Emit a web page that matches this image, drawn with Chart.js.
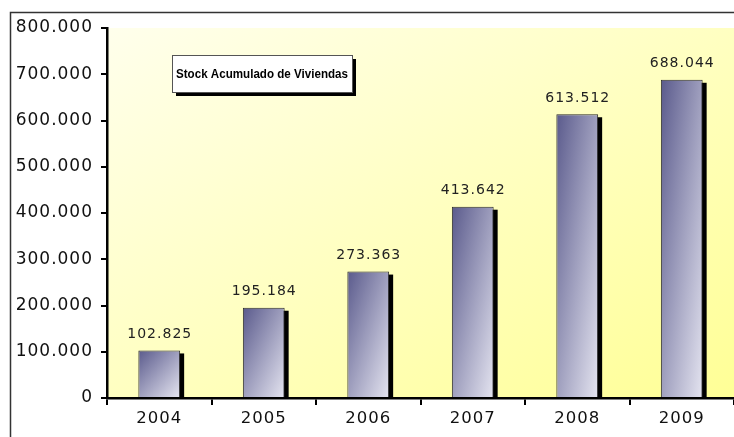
<!DOCTYPE html>
<html>
<head>
<meta charset="utf-8">
<script src="https://cdn.jsdelivr.net/npm/chart.js@4"></script>
<style>
  body { margin: 0; background: #fff; }
  canvas { display: block; }
</style>
</head>
<body>
<canvas id="stockChart" width="734" height="437"></canvas>
<script>
// datos
const years = ['2004', '2005', '2006', '2007', '2008', '2009'];
const stock = [102825, 195184, 273363, 413642, 613512, 688044];
const yTicks = [0, 100000, 200000, 300000, 400000, 500000, 600000, 700000, 800000];
const chartTitle = 'Stock Acumulado de Viviendas';

// 800000 -> "800.000"
const fmt = v => String(v).replace(/\B(?=(\d{3})+(?!\d))/g, '.');

// gradient whose isolines run along the box diagonal (like Excel's diagonal fill)
function diagGradient(ctx, x, y, w, h, c0, c1) {
    const k = 2 * w * h / (w * w + h * h);
    const g = ctx.createLinearGradient(x, y, x + k * h, y + k * w);
    g.addColorStop(0, c0);
    g.addColorStop(1, c1);
    return g;
}

const excelLook = {
    id: 'excelLook',
    beforeDraw(chart) {
        const { ctx, chartArea: a } = chart;
        ctx.save();
        // plot area background
        ctx.fillStyle = diagGradient(ctx, a.left, a.top, a.right - a.left, a.bottom - a.top, '#ffffec', '#ffff96');
        ctx.fillRect(a.left, a.top, a.right - a.left, a.bottom - a.top);
        // outer chart border (top and left visible)
        ctx.strokeStyle = '#333';
        ctx.lineWidth = 1.5;
        ctx.strokeRect(10.5, 12.5, chart.width + 20, chart.height + 20);
        ctx.restore();
        ctx.letterSpacing = '1px';
    },
    beforeDatasetsDraw(chart) {
        const { ctx } = chart;
        const meta = chart.getDatasetMeta(0);
        ctx.save();
        ctx.fillStyle = '#000';
        meta.data.forEach(bar => {
            const w = bar.width;
            // drop shadow
            ctx.fillRect(bar.x - w / 2 + 4, bar.y + 3, w, bar.base - bar.y - 3);
            bar.options.backgroundColor = diagGradient(ctx, bar.x - w / 2, bar.y, w, bar.base - bar.y, '#5a5a8c', '#e4e4f0');
        });
        ctx.restore();
    },
    afterDatasetsDraw(chart) {
        const { ctx, chartArea: a } = chart;
        const meta = chart.getDatasetMeta(0);
        ctx.save();
        // value labels
        ctx.letterSpacing = '1px';
        ctx.font = '14px "DejaVu Sans"';
        ctx.fillStyle = '#222';
        ctx.textAlign = 'center';
        ctx.textBaseline = 'bottom';
        meta.data.forEach((bar, i) => {
            ctx.fillText(fmt(stock[i]), bar.x + 0.5, bar.y - 9);
        });
        // title box
        const bx = a.left + 65, by = a.top + 27, bw = 180, bh = 37;
        ctx.fillStyle = '#000';
        ctx.fillRect(bx + 4, by + 4, bw, bh);
        ctx.fillStyle = '#fff';
        ctx.fillRect(bx, by, bw, bh);
        ctx.strokeStyle = '#555';
        ctx.lineWidth = 1;
        ctx.strokeRect(bx + 0.5, by + 0.5, bw, bh);
        ctx.letterSpacing = '0px';
        ctx.font = 'bold 13.5px "Liberation Sans"';
        ctx.fillStyle = '#000';
        ctx.textBaseline = 'middle';
        ctx.fillText(chartTitle, bx + bw / 2, by + bh / 2 + 1, 172);
        ctx.restore();
    }
};

const ctx = document.getElementById('stockChart').getContext('2d');

new Chart(ctx, {
    type: 'bar',
    data: {
        labels: years,
        datasets: [{
            label: chartTitle,
            data: stock,
            // scriptable so every bar gets its own options object
            backgroundColor: c => '#9a9abc',
            borderColor: '#2a2a2a',
            borderWidth: 1,
            borderSkipped: 'bottom',
            categoryPercentage: 0.8,
            barPercentage: 0.5
        }]
    },
    options: {
        responsive: false,
        animation: false,
        layout: { padding: { top: 28, left: 0, right: 0, bottom: 0 } },
        plugins: {
            legend: { display: false },
            tooltip: { enabled: false }
        },
        scales: {
            x: {
                afterFit: s => { s.height = 39; },
                border: { color: '#000', width: 2.5 },
                grid: { drawOnChartArea: false, color: '#000', lineWidth: 2, tickLength: 7 },
                ticks: { color: '#111', padding: 4, font: { family: 'DejaVu Sans', size: 16.5 } }
            },
            y: {
                min: 0,
                max: 800000,
                afterFit: s => { s.width = 107; },
                afterBuildTicks: s => { s.ticks = yTicks.map(v => ({ value: v })); },
                border: { color: '#000', width: 2.5 },
                grid: { drawOnChartArea: false, color: '#000', lineWidth: 2, tickLength: 6 },
                ticks: { color: '#111', padding: 8, callback: v => fmt(v), font: { family: 'DejaVu Sans', size: 17 } }
            }
        }
    },
    plugins: [excelLook]
});
</script>
</body>
</html>
